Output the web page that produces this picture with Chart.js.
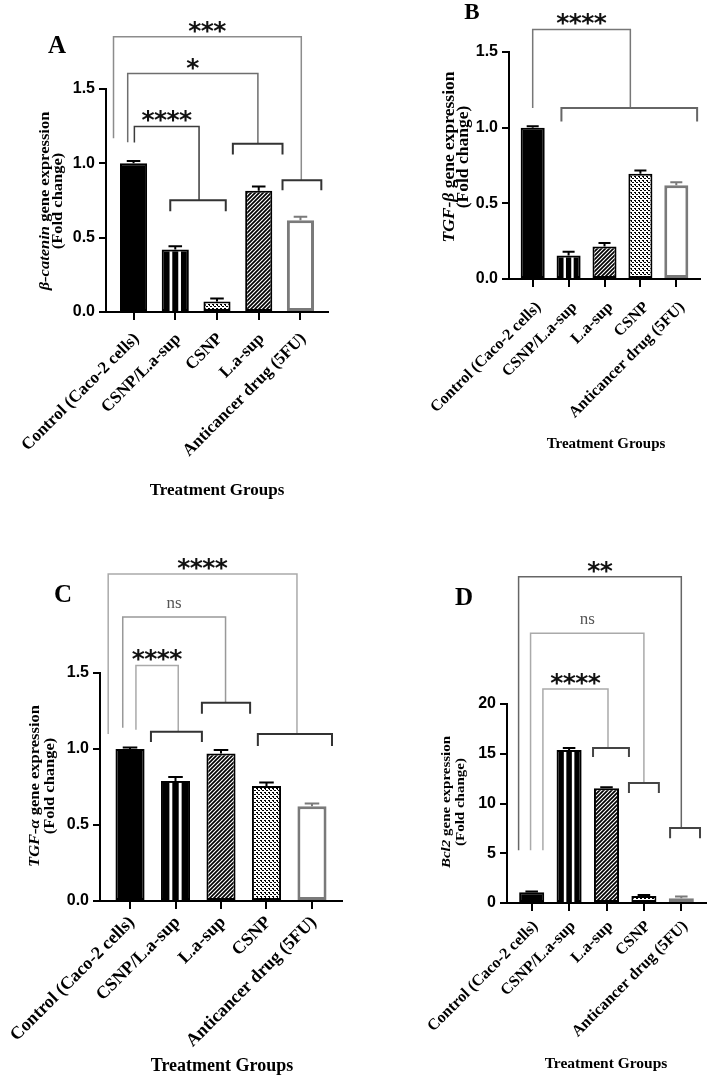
<!DOCTYPE html>
<html>
<head>
<meta charset="utf-8">
<script src="https://cdn.jsdelivr.net/npm/chart.js@4.4.1/dist/chart.umd.min.js"></script>
<style>
  body { margin: 0; background: #fff; width: 708px; height: 1077px; position: relative; overflow: hidden; font-family: "Liberation Serif", serif; color: #000; }
  canvas { position: absolute; }
  .txt { position: absolute; transform: translate(-50%, -50%); font-weight: bold; white-space: nowrap; }
  .ytitle { position: absolute; transform: translate(-50%, -50%) rotate(-90deg) scaleY(0.9); text-align: center; font-weight: bold; white-space: nowrap; }
</style>
</head>
<body>
<canvas id="chartA" width="354" height="540" style="left:0;top:0"></canvas>
<canvas id="chartB" width="354" height="540" style="left:354px;top:0"></canvas>
<canvas id="chartC" width="354" height="537" style="left:0;top:540px"></canvas>
<canvas id="chartD" width="354" height="537" style="left:354px;top:540px"></canvas>

<div class="txt" style="left:57px;top:45px;font-size:25px">A</div>
<div class="txt" style="left:472px;top:12px;font-size:23px">B</div>
<div class="txt" style="left:63px;top:594px;font-size:25px">C</div>
<div class="txt" style="left:464px;top:597px;font-size:25px">D</div>

<div class="ytitle" style="left:51px;top:201px;font-size:16.5px;line-height:14px"><i>β-catenin</i> gene expression<br>(Fold change)</div>
<div class="ytitle" style="left:456px;top:157px;font-size:17.5px;line-height:15px"><i>TGF-β</i> gene expression<br>(Fold change)</div>
<div class="ytitle" style="left:42px;top:786px;font-size:16.5px;line-height:16px"><i>TGF-α</i> gene expression<br>(Fold change)</div>
<div class="ytitle" style="left:453px;top:802px;font-size:15px;line-height:15px"><i>Bcl2</i> gene expression<br>(Fold change)</div>

<div class="txt" style="left:217px;top:490px;font-size:17px">Treatment Groups</div>
<div class="txt" style="left:606px;top:443px;font-size:15px">Treatment Groups</div>
<div class="txt" style="left:222px;top:1065px;font-size:18px">Treatment Groups</div>
<div class="txt" style="left:606px;top:1063px;font-size:15.5px">Treatment Groups</div>

<script>
// группы
const groupsA = ['Control (Caco-2 cells)', 'CSNP/L.a-sup', 'CSNP', 'L.a-sup', 'Anticancer drug (5FU)'];
const groupsBCD = ['Control (Caco-2 cells)', 'CSNP/L.a-sup', 'L.a-sup', 'CSNP', 'Anticancer drug (5FU)'];

// значения (fold change) и SEM
const betaCatenin = [1.0, 0.42, 0.07, 0.815, 0.617];
const betaCateninSem = [0.015, 0.022, 0.02, 0.03, 0.023];
const tgfBeta = [1.0, 0.155, 0.214, 0.695, 0.62];
const tgfBetaSem = [0.01, 0.025, 0.024, 0.022, 0.02];
const tgfAlpha = [1.0, 0.79, 0.971, 0.757, 0.624];
const tgfAlphaSem = [0.01, 0.025, 0.022, 0.023, 0.018];
const bcl2 = [1.07, 15.38, 11.53, 0.7, 0.47];
const bcl2Sem = [0.08, 0.2, 0.1, 0.1, 0.18];

// деления оси Y
const ticksFold = [0, 0.5, 1.0, 1.5];
const ticksBcl2 = [0, 5, 10, 15, 20];

// скобки значимости: [метка, x слева, x справа, y верх, y конец левой ножки, [x1, x2, y, y конец]]
const sigA = [
  ['***', -0.48, 4.02, 1.852, 1.168, [3.57, 4.5, 0.886, 0.819]],
  ['*', -0.14, 2.98, 1.604, 1.141, [2.38, 3.57, 1.132, 1.06]],
  ['****', 0.02, 1.57, 1.248, 1.14, [0.88, 2.21, 0.752, 0.678]]
];
const sigB = [
  ['****', 0, 2.72, 1.649, 1.13, [0.8, 4.58, 1.13, 1.04]]
];
const sigC = [
  ['****', -0.48, 3.67, 2.152, 1.099, [2.81, 4.44, 1.099, 1.02]],
  ['ns', -0.16, 2.1, 1.868, 1.139, [1.58, 2.64, 1.305, 1.232]],
  ['****', 0.13, 1.06, 1.55, 1.126, [0.46, 1.58, 1.113, 1.046]]
];
const sigD = [
  ['**', -0.35, 4.0, 32.8, 5.3, [3.7, 4.5, 7.54, 6.5]],
  ['ns', -0.03, 3.0, 27.1, 5.3, [2.6, 3.4, 12.06, 11.05]],
  ['****', 0.3, 2.04, 21.5, 5.3, [1.64, 2.6, 15.58, 14.67]]
];

// Заливки
function makeTile(draw) {
  const c = document.createElement('canvas');
  c.width = 4; c.height = 4;
  const g = c.getContext('2d');
  g.fillStyle = '#fff';
  g.fillRect(0, 0, 4, 4);
  draw(g);
  return document.createElement('canvas').getContext('2d').createPattern(c, 'repeat');
}
const hatch = makeTile(g => {
  g.strokeStyle = '#000'; g.lineWidth = 1.7;
  g.beginPath();
  g.moveTo(-1, 5); g.lineTo(5, -1);
  g.moveTo(-1, 1); g.lineTo(1, -1);
  g.moveTo(3, 5); g.lineTo(5, 3);
  g.stroke();
});
const dots = makeTile(g => {
  g.fillStyle = '#000';
  g.fillRect(0, 0, 2, 1);
  g.fillRect(2, 2, 2, 1);
  g.fillRect(1, 1, 1, 1);
});

const fillFor = name => {
  if (name === 'L.a-sup') return hatch;
  if (name === 'CSNP') return dots;
  if (name === 'Anticancer drug (5FU)') return '#fff';
  return '#000';
};
const borderFor = name => name === 'Anticancer drug (5FU)' ? '#7a7a7a' : '#000';

// Плагин: полоски, планки ошибок, скобки
const extras = {
  id: 'extras',
  afterDatasetsDraw(chart, args, opts) {
    const ctx = chart.ctx;
    const xs = chart.scales.x, ys = chart.scales.y;
    const px = v => xs.getPixelForValue(v), py = v => ys.getPixelForValue(v);
    ctx.save();
    chart.getDatasetMeta(0).data.forEach((bar, i) => {
      const name = opts.groups[i];
      if (name === 'CSNP/L.a-sup') {
        ctx.fillStyle = '#fff';
        [-0.16, 0.16].forEach(f => ctx.fillRect(bar.x + f * bar.width - bar.width * 0.05, bar.y + 2, bar.width * 0.1, bar.base - bar.y - 2));
      }
      const top = py(opts.values[i] + opts.sem[i]);
      ctx.strokeStyle = borderFor(name);
      ctx.lineWidth = 2;
      ctx.beginPath();
      ctx.moveTo(bar.x, bar.y);
      ctx.lineTo(bar.x, top);
      ctx.moveTo(bar.x - bar.width * 0.25, top);
      ctx.lineTo(bar.x + bar.width * 0.25, top);
      ctx.stroke();
    });

    opts.sig.forEach(([label, x1, x2, yTop, yLeft, sub], k) => {
      ctx.strokeStyle = opts.colors[k];
      ctx.lineWidth = 1.5;
      ctx.beginPath();
      ctx.moveTo(px(x1), py(yLeft));
      ctx.lineTo(px(x1), py(yTop));
      ctx.lineTo(px(x2), py(yTop));
      ctx.lineTo(px(x2), py(sub[2]));
      ctx.stroke();

      ctx.strokeStyle = opts.subColor;
      ctx.lineWidth = 2;
      ctx.beginPath();
      ctx.moveTo(px(sub[0]), py(sub[3]));
      ctx.lineTo(px(sub[0]), py(sub[2]));
      ctx.lineTo(px(sub[1]), py(sub[2]));
      ctx.lineTo(px(sub[1]), py(sub[3]));
      ctx.stroke();

      const cx = (px(x1) + px(x2)) / 2, ly = py(yTop);
      ctx.textAlign = 'center';
      ctx.textBaseline = 'alphabetic';
      if (label === 'ns') {
        ctx.fillStyle = '#555';
        ctx.font = '17px "Liberation Serif"';
        ctx.fillText(label, cx, ly - 9);
      } else {
        ctx.fillStyle = '#111';
        ctx.font = 'bold 25px "DejaVu Sans"';
        const n = label.length;
        for (let j = 0; j < n; j++) ctx.fillText('*', cx + (j - (n - 1) / 2) * 12.5, ly + 2);
      }
    });
    ctx.restore();
  }
};

function panel(id, groups, values, sem, yTicks, sig, colors, subColor, L) {
  new Chart(document.getElementById(id), {
    type: 'bar',
    data: {
      datasets: [{
        data: values.map((v, i) => ({ x: i, y: v })),
        backgroundColor: groups.map(fillFor),
        borderColor: groups.map(borderFor),
        borderWidth: groups.map(g => g === 'Anticancer drug (5FU)' ? 3 : 2),
        borderSkipped: false,
        categoryPercentage: 1,
        barPercentage: L.bar
      }]
    },
    options: {
      responsive: false,
      animation: false,
      events: [],
      layout: { padding: { top: L.top, right: L.right, left: 0, bottom: 0 } },
      plugins: {
        legend: { display: false },
        tooltip: { enabled: false },
        extras: { groups, values, sem, sig, colors, subColor }
      },
      scales: {
        x: {
          type: 'linear',
          offset: false,
          min: -0.66,
          max: 4.66,
          afterBuildTicks: s => { s.ticks = groups.map((g, i) => ({ value: i })); },
          afterFit: s => { s.height = L.xh; s.paddingLeft = 0; s.paddingRight = 0; },
          grid: { offset: false, drawOnChartArea: false, color: '#000', lineWidth: 2, tickLength: 8 },
          border: { color: '#000', width: 2 },
          ticks: {
            autoSkip: false, minRotation: 45, maxRotation: 45, padding: L.xp, labelOffset: L.xo, color: '#000',
            font: { family: 'Liberation Serif', weight: 'bold', size: L.xf },
            callback: v => groups[v]
          }
        },
        y: {
          min: yTicks[0],
          max: yTicks[yTicks.length - 1],
          afterBuildTicks: s => { s.ticks = yTicks.map(v => ({ value: v })); },
          afterFit: s => { s.width = L.yw; },
          grid: { drawOnChartArea: false, color: '#000', lineWidth: 2, tickLength: 7 },
          border: { color: '#000', width: 2 },
          ticks: {
            padding: 4, color: '#000',
            font: { family: 'Liberation Sans', weight: 'bold', size: L.yf },
            callback: v => L.dec ? v.toFixed(1) : String(v)
          }
        }
      }
    },
    plugins: [extras]
  });
}

panel('chartA', groupsA, betaCatenin, betaCateninSem, ticksFold, sigA,
  ['#8c8c8c', '#6e6e6e', '#3c3c3c'], '#333',
  { top: 89, right: 26, yw: 106, xh: 228, bar: 0.65, xf: 17, xp: 9, xo: 3, yf: 16, dec: true });
panel('chartB', groupsBCD, tgfBeta, tgfBetaSem, ticksFold, sigB,
  ['#777'], '#666',
  { top: 52, right: 8, yw: 155, xh: 261, bar: 0.67, xf: 16, xp: 11, xo: 6, yf: 16, dec: true });
panel('chartC', groupsBCD, tgfAlpha, tgfAlphaSem, ticksFold, sigC,
  ['#aaa', '#999', '#aaa'], '#333',
  { top: 133, right: 12, yw: 100, xh: 176, bar: 0.64, xf: 18, xp: 3, xo: 2, yf: 16, dec: true });
panel('chartD', groupsBCD, bcl2, bcl2Sem, ticksBcl2, sigD,
  ['#666', '#aaa', '#aaa'], '#444',
  { top: 164, right: 2, yw: 153, xh: 174, bar: 0.67, xf: 16, xp: 6, xo: 4, yf: 16, dec: false });
</script>
</body>
</html>
